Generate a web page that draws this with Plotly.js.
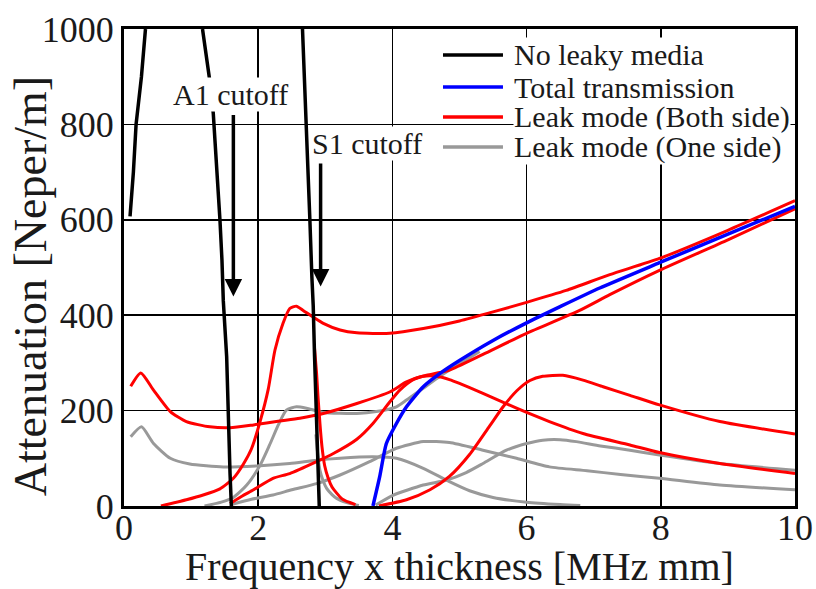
<!DOCTYPE html>
<html><head><meta charset="utf-8">
<script src="https://cdn.plot.ly/plotly-3.0.1.min.js"></script>
<style>html,body{margin:0;padding:0;background:#fff}#chart{width:816px;height:589px}</style>
</head><body><div id="chart"></div>
<script>
// ---- data ----
const noLeak1X = [0.09,0.14,0.18,0.26,0.32];
const noLeak1Y = [607,700,800,900,1000];
const noLeak2X = [1.17,1.27,1.33,1.37,1.43,1.46,1.48,1.53,1.55,1.58,1.60];
const noLeak2Y = [1000,900,824,740,600,515,430,313,194,69,0];
const noLeak3X = [2.66,2.72,2.745,2.77,2.80,2.82,2.84,2.87,2.89,2.91];
const noLeak3Y = [1000,800,725,600,480,420,313,173,61,0];

const totalX = [3.71,3.81,3.91,4.06,4.21,4.46,4.71,5.0,5.5,6.0,6.5,7.09,7.98,9.0,10.0];
const totalY = [0,61,131,173,208,250,278,305,347,384,418,457,510,570,628];

const both1X = [0.1,0.25,0.44,0.69,0.93,1.28,1.58,1.93,2.32,2.62,2.97,3.47,3.96,4.21,4.46,4.66,4.85,5.0,5.35,5.85,6.34,6.84,7.54,7.98,8.88,10.0];
const both1Y = [251,279,243,198,177,166,164,170,178,184,194,215,239,260,272,272,265,257,236,205,177,152,128,112,89,68];
const both2X = [0.55,0.93,1.18,1.43,1.63,1.78,1.90,2.03,2.15,2.25,2.37,2.47,2.57,2.67,2.82,2.97,3.22,3.47,3.96,4.46,5.0,5.5,6.0,6.59,7.24,7.98,9.0,10.0];
const both2Y = [0,13,23,36,58,88,120,178,245,327,383,414,419,410,396,383,369,363,362,372,388,407,427,452,485,519,578,640];
const both3X = [1.58,1.75,1.93,2.22,2.47,2.87,3.12,3.47,3.71,3.96,4.11,4.31,4.51,4.71,4.85,5.35,6.0,6.79,7.24,7.98,9.0,10.0];
const both3Y = [5,20,34,58,68,93,110,140,173,218,243,265,274,280,285,318,362,410,443,494,558,623];
const both4X = [2.84,2.87,2.89,2.92,2.95,2.99,3.04,3.1,3.17,3.25,3.35,3.45];
const both4Y = [330,278,232,173,125,85,60,40,27,15,8,3];
const both5X = [3.8,4.21,4.56,4.85,5.15,5.45,5.65,5.85,6.05,6.24,6.54,6.84,7.14,7.54,7.98,8.88,10.0];
const both5Y = [0,13,34,62,108,168,208,241,263,272,274,264,250,232,212,177,151];

const one1X = [0.1,0.26,0.44,0.69,0.98,1.48,1.98,2.47,2.87,3.22,3.71,4.06,4.46,4.85,5.15,5.5,6.0,6.5,6.8];
const one1Y = [145,166,131,100,88,82,84,89,96,100,103,100,79,51,32,18,8,3,1];
const one2X = [1.2,1.45,1.63,1.83,2.03,2.17,2.30,2.42,2.57,2.72,2.97,3.47,3.76,4.06,4.21,4.46,4.71,5.0,5.3];
const one2Y = [0,8,18,44,86,128,170,201,208,205,196,194,198,208,222,247,272,298,324];
const one3X = [1.6,1.9,2.22,2.5,2.87,3.22,3.66,4.06,4.46,4.85,5.35,5.85,6.34,6.9,7.4,7.98,8.88,10.0];
const one3Y = [3,14,23,34,47,65,93,121,135,133,117,100,82,74,66,58,44,34];
const one4X = [2.86,2.89,2.92,2.97,3.02,3.1,3.17,3.27,3.37,3.5];
const one4Y = [150,105,75,52,37,24,16,9,5,1];
const one5X = [3.75,4.0,4.46,4.8,5.1,5.35,5.7,6.0,6.24,6.5,6.74,7.1,7.54,7.98,8.88,10.0];
const one5Y = [2,22,44,54,70,89,117,131,138,139,135,126,117,107,89,75];

const xTicks = [0,2,4,6,8,10];
const yTicks = [0,200,400,600,800,1000];
const legendNames = ['No leaky media','Total transmission','Leak mode (Both side)','Leak mode (One side)'];
const legendColors = ['#000000','#0000ff','#ff0000','#999999'];
const xTitle = 'Frequency x thickness [MHz mm]';
const yTitle = 'Attenuation [Neper/m]';

const FONT = 'Liberation Serif';
const TXT = '#1a1a1a';

function tr(x, y, color, width, name, shape){
  return {x:x, y:y, type:'scatter', mode:'lines', name:name, showlegend:false,
    line:{color:color, width:width, shape:shape||'spline', smoothing:0.6}, hoverinfo:'skip'};
}
const data = [
  tr(one1X, one1Y, legendColors[3], 3, legendNames[3]),
  tr(one2X, one2Y, legendColors[3], 3, legendNames[3]),
  tr(one3X, one3Y, legendColors[3], 3, legendNames[3]),
  tr(one4X, one4Y, legendColors[3], 3, legendNames[3]),
  tr(one5X, one5Y, legendColors[3], 3, legendNames[3]),
  tr(both1X, both1Y, legendColors[2], 3, legendNames[2]),
  tr(both2X, both2Y, legendColors[2], 3, legendNames[2]),
  tr(both3X, both3Y, legendColors[2], 3, legendNames[2]),
  tr(both4X, both4Y, legendColors[2], 3, legendNames[2]),
  tr(both5X, both5Y, legendColors[2], 3, legendNames[2]),
  tr(totalX, totalY, legendColors[1], 3.5, legendNames[1]),
  tr(noLeak1X, noLeak1Y, legendColors[0], 3.5, legendNames[0], 'linear'),
  tr(noLeak2X, noLeak2Y, legendColors[0], 3.5, legendNames[0], 'linear'),
  tr(noLeak3X, noLeak3Y, legendColors[0], 3.5, legendNames[0], 'linear')
];

// legend drawn as paper-positioned samples + text
const legRowsY = [0.9455, 0.8784, 0.8155, 0.7526];
const shapes = legendNames.map((n,i)=>({type:'line', xref:'paper', yref:'paper',
  x0:0.4754, x1:0.5648, y0:legRowsY[i], y1:legRowsY[i], line:{color:legendColors[i], width:3.5}}));

const annotations = [
  {x:1.63, y:439, ax:1.63, ay:823, xref:'x', yref:'y', axref:'x', ayref:'y', text:'',
   showarrow:true, arrowhead:2, arrowsize:1, arrowwidth:3.5, arrowcolor:'#000'},
  {x:2.93, y:460, ax:2.93, ay:721, xref:'x', yref:'y', axref:'x', ayref:'y', text:'',
   showarrow:true, arrowhead:2, arrowsize:1, arrowwidth:3.5, arrowcolor:'#000'},
  {x:1.58, y:863, xref:'x', yref:'y', text:'A1 cutoff', showarrow:false, bgcolor:'#ffffff',
   borderpad:0, font:{family:FONT, size:30, color:TXT}},
  {x:3.62, y:760, xref:'x', yref:'y', text:'S1 cutoff', showarrow:false, bgcolor:'#ffffff',
   borderpad:0, font:{family:FONT, size:30, color:TXT}},
  {x:-0.140, y:0.461, xref:'paper', yref:'paper', text:yTitle, textangle:-90, showarrow:false,
   xanchor:'center', yanchor:'middle', font:{family:FONT, size:46, color:TXT}}
].concat(legendNames.map((n,i)=>({x:0.5797, y:legRowsY[i], xref:'paper', yref:'paper',
   xanchor:'left', yanchor:'middle', text:n, showarrow:false, bgcolor:'#ffffff', borderpad:0,
   font:{family:FONT, size:30, color:TXT}})));

const layout = {
  width:816, height:589,
  margin:{l:124, r:21, t:29, b:83, pad:0},
  paper_bgcolor:'#ffffff', plot_bgcolor:'#ffffff',
  font:{family:FONT, color:TXT},
  showlegend:false,
  xaxis:{range:[0,10], tickvals:xTicks, ticktext:xTicks.map(String), showgrid:true, gridcolor:'#000', gridwidth:1.5,
    zeroline:false, showline:true, linecolor:'#000', linewidth:3, mirror:true, ticks:'',
    ticklabelstandoff:-12,
    tickfont:{family:FONT, size:36, color:TXT},
    title:{text:xTitle, font:{family:FONT, size:40, color:TXT}, standoff:2}},
  yaxis:{range:[0,1000], tickvals:yTicks, ticktext:yTicks.map(String), showgrid:true, gridcolor:'#000', gridwidth:1.5,
    zeroline:false, showline:true, linecolor:'#000', linewidth:3, mirror:true, ticks:'',
    tickfont:{family:FONT, size:36, color:TXT}},
  shapes:shapes,
  annotations:annotations
};
Plotly.newPlot('chart', data, layout, {displayModeBar:false, staticPlot:true});
</script></body></html>
